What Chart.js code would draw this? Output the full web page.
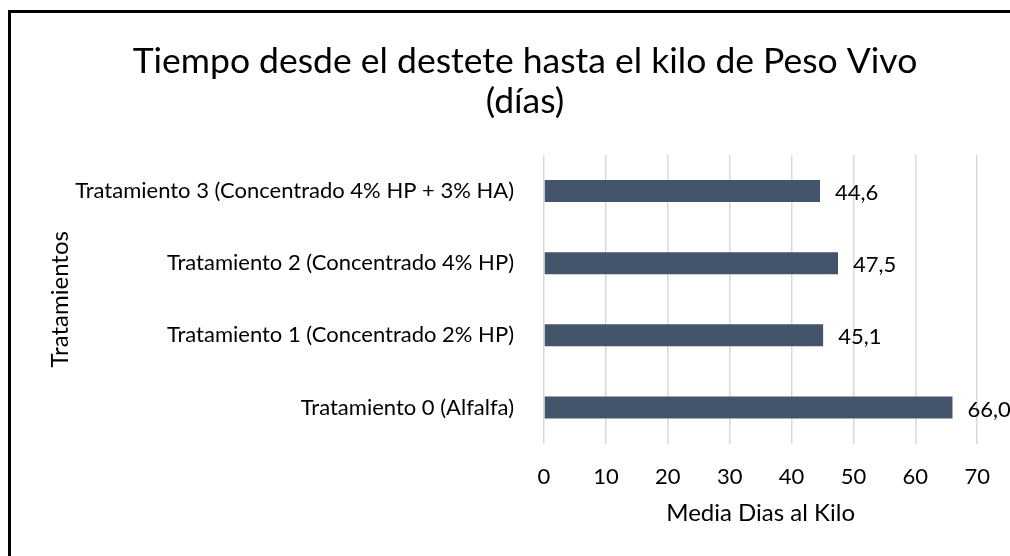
<!DOCTYPE html>
<html>
<head>
<meta charset="utf-8">
<script src="https://cdn.jsdelivr.net/npm/chart.js@4.4.1/dist/chart.umd.min.js"></script>
<style>
    body { margin: 0; background: #fff; }
    #wrap { position: absolute; left: 0; top: 0; width: 1010px; height: 556px; }
    #frame { position: absolute; left: 8px; top: 10px; width: 1010px; height: 560px;
             border-left: 3px solid #000; border-top: 3px solid #000; pointer-events: none; }
</style>
</head>
<body>
<div id="wrap">
    <canvas id="myChart1" width="1010" height="556"></canvas>
    <div id="frame"></div>
</div>
<script>
// valores (de arriba hacia abajo)
const tratamientos = [
    'Tratamiento 3 (Concentrado 4% HP + 3% HA)',
    'Tratamiento 2 (Concentrado 4% HP)',
    'Tratamiento 1 (Concentrado 2% HP)',
    'Tratamiento 0 (Alfalfa)'
];
const mediaDias = [44.6, 47.5, 45.1, 66.0];
const ticksX = [0, 10, 20, 30, 40, 50, 60, 70];

const fuente = 'Lato, "Open Sans", sans-serif';

// etiquetas de datos a la derecha de cada barra
const etiquetas = {
    id: 'etiquetas',
    afterDatasetsDraw(chart) {
        const ctx = chart.ctx;
        const meta = chart.getDatasetMeta(0);
        ctx.save();
        ctx.font = '22px ' + fuente;
        ctx.fillStyle = '#000';
        ctx.textAlign = 'left';
        ctx.textBaseline = 'middle';
        meta.data.forEach((bar, i) => {
            const txt = mediaDias[i].toFixed(1).replace('.', ',');
            ctx.fillText(txt, bar.x + 15, bar.y + 2);
        });
        ctx.restore();
    }
};

const renderChart1 = () => {
    const ctx = document.getElementById('myChart1').getContext('2d');

    new Chart(ctx, {
        type: 'bar',
        data: {
            labels: tratamientos,
            datasets: [{
                label: 'Media Dias al Kilo',
                data: mediaDias,
                backgroundColor: '#44546A',
                borderWidth: 0,
                barPercentage: 0.305,
                categoryPercentage: 1
            }]
        },
        options: {
            indexAxis: 'y',
            responsive: false,
            animation: false,
            layout: { padding: { left: 70, right: 30, top: 18, bottom: 28 } },
            plugins: {
                legend: { display: false },
                tooltip: { enabled: false },
                title: {
                    display: true,
                    text: ['Tiempo desde el destete hasta el kilo de Peso Vivo', '(días)'],
                    color: '#000',
                    font: { family: fuente, size: 35.5, weight: 'normal', lineHeight: 1.127 },
                    padding: { top: 24, bottom: 33 }
                }
            },
            scales: {
                x: {
                    min: 0,
                    max: 70,
                    afterBuildTicks: (axis) => { axis.ticks = ticksX.map(v => ({ value: v })); },
                    afterFit: (axis) => { axis.height = 84.5; },
                    grid: { color: '#D9D9D9', lineWidth: 1.5, drawTicks: false },
                    border: { display: false },
                    ticks: { color: '#000', font: { family: fuente, size: 22, lineHeight: 1.2 }, padding: 20 },
                    title: {
                        display: true,
                        text: 'Media Dias al Kilo',
                        color: '#000',
                        font: { family: fuente, size: 24, lineHeight: 1.2 },
                        padding: { top: 0, bottom: 0 }
                    }
                },
                y: {
                    afterFit: (axis) => { axis.width = 474; },
                    grid: { display: false },
                    border: { display: false },
                    ticks: { color: '#000', font: { family: fuente, size: 22 }, padding: 22 },
                    title: {
                        display: true,
                        text: 'Tratamientos',
                        color: '#000',
                        font: { family: fuente, size: 24, lineHeight: 1.2 },
                        padding: { top: -24, bottom: 8 }
                    }
                }
            }
        },
        plugins: [etiquetas]
    });
};

document.addEventListener('DOMContentLoaded', renderChart1);
</script>
</body>
</html>
